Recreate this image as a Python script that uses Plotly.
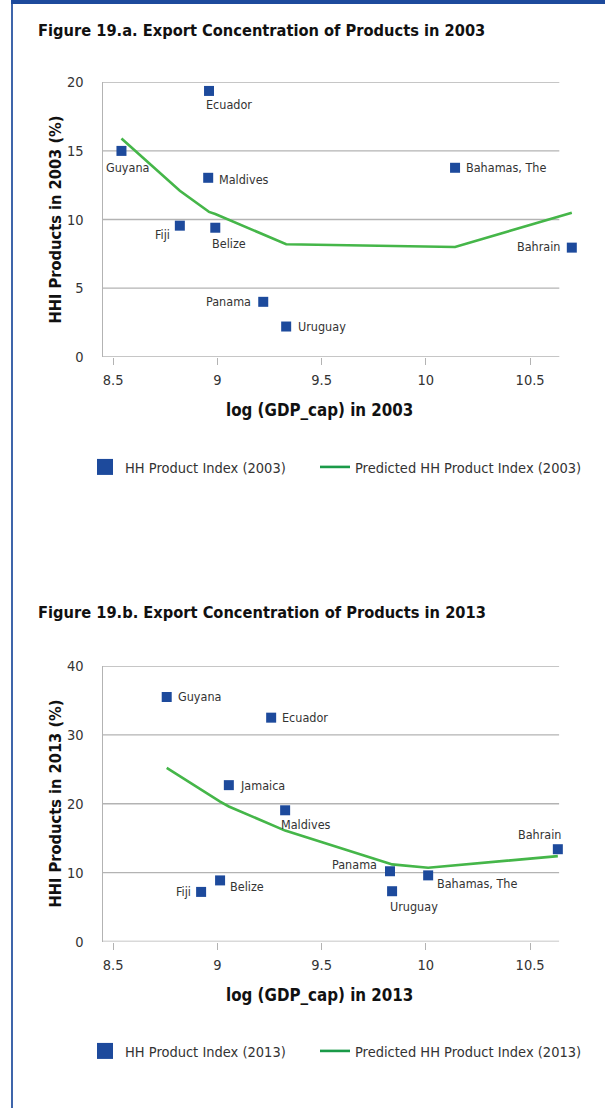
import plotly.graph_objects as go

# ---------------- data ----------------
countries_03 = ["Ecuador", "Guyana", "Maldives", "Fiji", "Belize", "Panama", "Uruguay", "Bahamas, The", "Bahrain"]
gdp_03 = [8.96, 8.54, 8.956, 8.82, 8.99, 9.22, 9.33, 10.14, 10.70]
hhi_03 = [19.37, 15.0, 13.04, 9.55, 9.40, 4.0, 2.2, 13.77, 7.95]

pred_x_03 = [8.54, 8.82, 8.956, 8.96, 8.99, 9.22, 9.33, 10.14, 10.70]
pred_y_03 = [15.9, 12.1, 10.6, 10.55, 10.4, 8.95, 8.2, 8.0, 10.5]

countries_13 = ["Guyana", "Ecuador", "Jamaica", "Maldives", "Fiji", "Belize", "Panama", "Uruguay", "Bahamas, The", "Bahrain"]
gdp_13 = [8.757, 9.258, 9.055, 9.325, 8.922, 9.013, 9.828, 9.838, 10.011, 10.633]
hhi_13 = [35.5, 32.5, 22.7, 19.05, 7.2, 8.87, 10.2, 7.3, 9.6, 13.4]

pred_x_13 = [8.757, 8.922, 9.013, 9.055, 9.258, 9.325, 9.828, 9.838, 10.011, 10.633]
pred_y_13 = [25.2, 22.0, 20.3, 19.6, 17.0, 16.1, 11.3, 11.2, 10.7, 12.4]

x_ticks = [8.5, 9, 9.5, 10, 10.5]
x_tick_text = ["8.5", "9", "9.5", "10", "10.5"]
y_ticks_03 = [0, 5, 10, 15, 20]
y_ticks_13 = [0, 10, 20, 30, 40]

legend_names = ["HH Product Index (2003)", "Predicted HH Product Index (2003)",
                "HH Product Index (2013)", "Predicted HH Product Index (2013)"]

# axis extents
grid_x_extent = [8.45, 10.64]      # where gridlines / axis line run
x_range_03 = [8.45, 10.75]         # top chart: wider so the Bahrain point (beyond grid) is shown
x_range_13 = [8.45, 10.64]
y_range_03 = [0, 20]
y_range_13 = [0, 40]

# label placement (style): xanchor, xshift, yshift
label_style_03 = {
    "Ecuador": ("left", -5, -13.5),
    "Guyana": ("center", 6.5, -16.5),
    "Maldives": ("left", 9, -1.5),
    "Fiji": ("right", -8, -9.3),
    "Belize": ("left", -5, -15.6),
    "Panama": ("right", -10, 0),
    "Uruguay": ("left", 10, 0),
    "Bahamas, The": ("left", 8.5, 0),
    "Bahrain": ("right", -9, 1),
}
label_style_13 = {
    "Guyana": ("left", 9, 0),
    "Ecuador": ("left", 8.5, 0),
    "Jamaica": ("left", 9, 0),
    "Maldives": ("left", -6.5, -14),
    "Fiji": ("right", -8.5, 0),
    "Belize": ("left", 7.5, -6.5),
    "Panama": ("right", -11, 6.5),
    "Uruguay": ("left", -4.5, -15),
    "Bahamas, The": ("left", 7, -7.7),
    "Bahrain": ("right", 5.7, 15),
}

# ---------------- style ----------------
W, H = 605, 1108
FONT = "DejaVu Sans Condensed, DejaVu Sans, sans-serif"
BLUE = "#1d4a9c"
GREEN = "#45b649"
LEG_GREEN = "#1a9a48"
GRID = "#b3b3b3"
TXT = "#333333"
LABEL_SIZE = 12.5
TICK_SIZE = 14.5
PX_PER_UNIT = (559.3 - 102.7) / (grid_x_extent[1] - grid_x_extent[0])


def px_x(p):
    return p / W


def px_y(p):
    return 1 - p / H


fig = go.Figure()

# top chart
fig.add_trace(go.Scatter(x=pred_x_03, y=pred_y_03, mode="lines", line=dict(color=GREEN, width=2.6),
                         xaxis="x", yaxis="y", showlegend=False, hoverinfo="skip"))
fig.add_trace(go.Scatter(x=gdp_03, y=hhi_03, mode="markers", marker=dict(symbol="square", size=10, color=BLUE),
                         xaxis="x", yaxis="y", showlegend=False, cliponaxis=False, text=countries_03))

# bottom chart
fig.add_trace(go.Scatter(x=pred_x_13, y=pred_y_13, mode="lines", line=dict(color=GREEN, width=2.6),
                         xaxis="x2", yaxis="y2", showlegend=False, hoverinfo="skip"))
fig.add_trace(go.Scatter(x=gdp_13, y=hhi_13, mode="markers", marker=dict(symbol="square", size=10, color=BLUE),
                         xaxis="x2", yaxis="y2", showlegend=False, cliponaxis=False, text=countries_13))

# legend entries (one legend box per entry for exact placement)
fig.add_trace(go.Scatter(x=[None], y=[None], mode="markers", name=legend_names[0],
                         marker=dict(symbol="square", size=16, color=BLUE), xaxis="x", yaxis="y", legend="legend"))
fig.add_trace(go.Scatter(x=[None], y=[None], mode="lines", name=legend_names[1],
                         line=dict(color=LEG_GREEN, width=2.6), xaxis="x", yaxis="y", legend="legend2"))
fig.add_trace(go.Scatter(x=[None], y=[None], mode="markers", name=legend_names[2],
                         marker=dict(symbol="square", size=16, color=BLUE), xaxis="x2", yaxis="y2", legend="legend3"))
fig.add_trace(go.Scatter(x=[None], y=[None], mode="lines", name=legend_names[3],
                         line=dict(color=LEG_GREEN, width=2.6), xaxis="x2", yaxis="y2", legend="legend4"))

annotations = []
for c, xv, yv in zip(countries_03, gdp_03, hhi_03):
    xa, xs, ys = label_style_03[c]
    annotations.append(dict(x=xv, y=yv, xref="x", yref="y", text=c, showarrow=False, xanchor=xa,
                            yanchor="middle", xshift=xs, yshift=ys,
                            font=dict(family=FONT, size=LABEL_SIZE, color=TXT)))
for c, xv, yv in zip(countries_13, gdp_13, hhi_13):
    xa, xs, ys = label_style_13[c]
    annotations.append(dict(x=xv, y=yv, xref="x2", yref="y2", text=c, showarrow=False, xanchor=xa,
                            yanchor="middle", xshift=xs, yshift=ys,
                            font=dict(family=FONT, size=LABEL_SIZE, color=TXT)))

titles = [
    ("<b>Figure 19.a. Export Concentration of Products in 2003</b>", 36, 30, "left", 0, 16.3),
    ("<b>Figure 19.b. Export Concentration of Products in 2013</b>", 36, 612.5, "left", 0, 16.3),
    ("<b>HHI Products in 2003 (%)</b>", 55, 219.5, "center", -90, 16.3),
    ("<b>HHI Products in 2013 (%)</b>", 55, 803.5, "center", -90, 16.3),
    ("<b>log (GDP_cap) in 2003</b>", 319, 410, "center", 0, 16.8),
    ("<b>log (GDP_cap) in 2013</b>", 319, 995, "center", 0, 16.8),
]
for t, xp, yp, xa, ang, fs in titles:
    annotations.append(dict(x=px_x(xp), y=px_y(yp), xref="paper", yref="paper", text=t, showarrow=False,
                            xanchor=xa, yanchor="middle", textangle=ang,
                            font=dict(family=FONT, size=fs, color="#111111")))

common_x = dict(tickvals=x_ticks, ticktext=x_tick_text,
                showgrid=False, zeroline=False, showline=False,
                ticks="outside", ticklen=7, tickwidth=1.3, tickcolor=GRID, ticklabelstandoff=3,
                tickfont=dict(family=FONT, size=TICK_SIZE, color=TXT), automargin=False, fixedrange=True)
common_y = dict(showgrid=False, zeroline=False, showline=True,
                linecolor=GRID, linewidth=1.4, ticks="", ticklabelstandoff=15,
                tickfont=dict(family=FONT, size=TICK_SIZE, color=TXT), automargin=False, fixedrange=True)

left_px = 102.7
dom_03 = [px_x(left_px), px_x(left_px + PX_PER_UNIT * (x_range_03[1] - x_range_03[0]))]
dom_13 = [px_x(left_px), px_x(left_px + PX_PER_UNIT * (x_range_13[1] - x_range_13[0]))]

shapes = [
    dict(type="rect", xref="paper", yref="paper", x0=px_x(11), x1=1, y0=px_y(4), y1=1,
         fillcolor=BLUE, line=dict(width=0)),
    dict(type="line", xref="paper", yref="paper", x0=px_x(12), x1=px_x(12), y0=0, y1=px_y(2),
         line=dict(color=BLUE, width=1.7)),
]
for xr, yr, ticks in (("x", "y", y_ticks_03), ("x2", "y2", y_ticks_13)):
    for tv in ticks:
        shapes.append(dict(type="line", xref=xr, yref=yr, x0=grid_x_extent[0], x1=grid_x_extent[1],
                           y0=tv, y1=tv, layer="below", line=dict(color=GRID, width=1.4)))


def legend_box(xp, yp):
    return dict(orientation="h", x=px_x(xp), y=px_y(yp), xanchor="left", yanchor="middle",
                font=dict(family=FONT, size=14.5, color=TXT), bgcolor="rgba(0,0,0,0)", borderwidth=0,
                itemclick=False, itemdoubleclick=False)


fig.update_layout(
    width=W, height=H,
    margin=dict(l=0, r=0, t=0, b=0),
    paper_bgcolor="white", plot_bgcolor="rgba(0,0,0,0)",
    font=dict(family=FONT, color=TXT),
    xaxis=dict(common_x, domain=dom_03, range=x_range_03, anchor="y"),
    yaxis=dict(common_y, domain=[px_y(356.7), px_y(82.3)], range=y_range_03, tickvals=y_ticks_03, anchor="x"),
    xaxis2=dict(common_x, domain=dom_13, range=x_range_13, anchor="y2"),
    yaxis2=dict(common_y, domain=[px_y(941.5), px_y(666)], range=y_range_13, tickvals=y_ticks_13, anchor="x2"),
    legend=legend_box(85, 467),
    legend2=legend_box(315, 467),
    legend3=legend_box(85, 1051),
    legend4=legend_box(315, 1051),
    annotations=annotations,
    shapes=shapes,
)

fig.write_html(
    "out.html",
    config={"displayModeBar": False},
    post_script="document.body.style.margin='0';document.body.style.overflow='hidden';"
                "document.documentElement.style.overflow='hidden';",
)
